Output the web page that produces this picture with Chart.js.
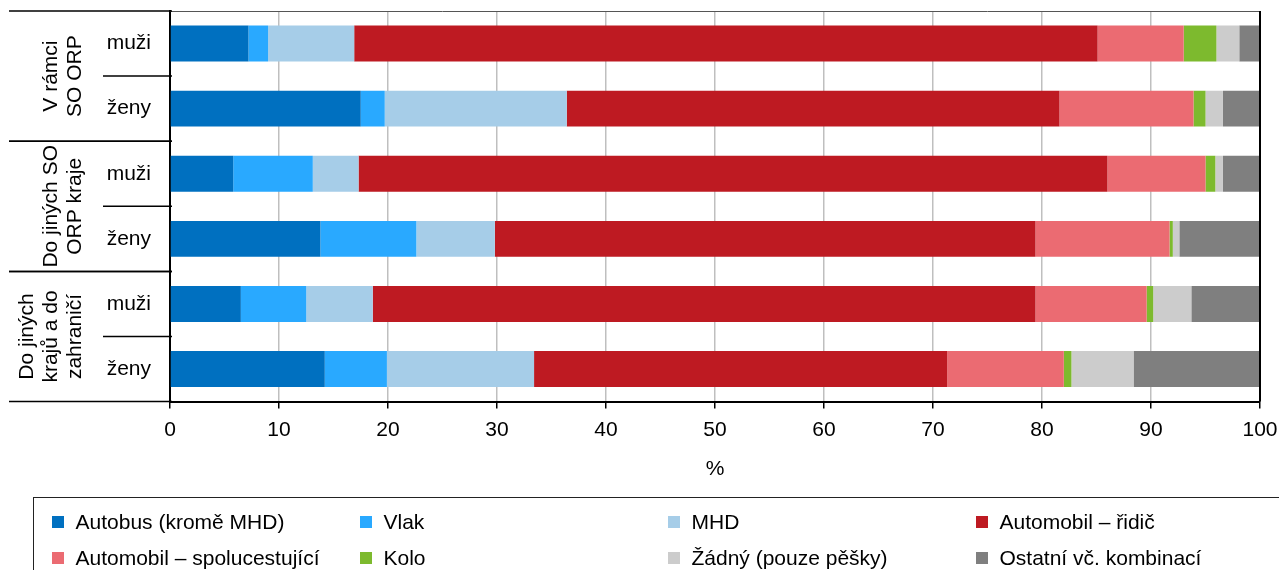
<!DOCTYPE html>
<html>
<head>
<meta charset="utf-8">
<script src="https://cdn.jsdelivr.net/npm/chart.js@4"></script>
<style>
  html, body { margin: 0; padding: 0; background: #fff; overflow: hidden; }
  #wrap { position: relative; width: 1279px; height: 570px; font-family: "Liberation Sans", Arial, sans-serif; }
  #c { position: absolute; left: 0; top: 0; }
  #legend { position: absolute; left: 33px; top: 497px; width: 1300px; height: 120px; border: 1.5px solid #222; box-sizing: border-box; }
  .li { position: absolute; display: flex; align-items: center; font-size: 21px; color: #000; white-space: nowrap; height: 24px; }
  .li span.sw { display: inline-block; width: 12px; height: 12px; margin-right: 12px; }
</style>
</head>
<body>
<div id="wrap">
  <canvas id="c" width="1279" height="570"></canvas>
  <div id="legend"></div>
</div>
<script>
// ---- data ----
const categories = ["muži", "ženy", "muži", "ženy", "muži", "ženy"];
const groupLabels = [["V rámci", "SO ORP"], ["Do jiných SO", "ORP kraje"], ["Do jiných", "krajů a do", "zahraničí"]];
const groupSpans = [[0, 1], [2, 3], [4, 5]];
const seriesNames = ["Autobus (kromě MHD)", "Vlak", "MHD", "Automobil – řidič", "Automobil – spolucestující", "Kolo", "Žádný (pouze pěšky)", "Ostatní vč. kombinací"];
const seriesColors = ["#0070c0", "#29a9ff", "#a6cde8", "#be1a22", "#eb6b72", "#7dba2e", "#cccccc", "#7f7f7f"];
const autobus   = [7.2, 17.5, 5.8, 13.8, 6.5, 14.2];
const vlak      = [1.8, 2.2, 7.3, 8.8, 6.0, 5.7];
const mhd       = [7.9, 16.7, 4.2, 7.2, 6.1, 13.5];
const ridic     = [68.2, 45.2, 68.7, 49.6, 60.8, 37.9];
const spolu     = [7.9, 12.3, 9.0, 12.3, 10.2, 10.7];
const kolo      = [3.0, 1.1, 0.9, 0.3, 0.6, 0.7];
const zadny     = [2.1, 1.6, 0.7, 0.6, 3.5, 5.7];
const ostatni   = [1.9, 3.4, 3.4, 7.4, 6.3, 11.6];
const xTicks = [0, 10, 20, 30, 40, 50, 60, 70, 80, 90, 100];
const xTitle = "%";

const seriesValues = [autobus, vlak, mhd, ridic, spolu, kolo, zadny, ostatni];
const FONT = "'Liberation Sans', Arial, sans-serif";

const datasets = seriesNames.map((n, i) => ({
  label: n,
  data: seriesValues[i],
  backgroundColor: seriesColors[i],
  borderWidth: 0,
  barPercentage: 0.552,
  categoryPercentage: 1.0
}));

const decor = {
  id: 'decor',
  afterDraw(chart) {
    const ctx = chart.ctx;
    const y = chart.scales.y;
    const a = chart.chartArea;
    const n = categories.length;
    const edge = i => i === 0 ? a.top : (i === n ? a.bottom : (y.getPixelForValue(i - 1) + y.getPixelForValue(i)) / 2);
    ctx.save();
    ctx.strokeStyle = '#555';
    ctx.lineWidth = 1;
    ctx.beginPath(); ctx.moveTo(a.left, a.top + 0.5); ctx.lineTo(a.right, a.top + 0.5); ctx.stroke();
    ctx.strokeStyle = '#000';
    ctx.lineWidth = 2;
    ctx.beginPath(); ctx.moveTo(a.right, a.top); ctx.lineTo(a.right, a.bottom); ctx.stroke();
    ctx.lineWidth = 1.5;
    ctx.strokeStyle = '#000';
    groupSpans.forEach(([s, e]) => {
      [s, e + 1].forEach(k => {
        const yy = edge(k);
        ctx.beginPath(); ctx.moveTo(9, yy); ctx.lineTo(a.left + 2, yy); ctx.stroke();
      });
      for (let k = s + 1; k <= e; k++) {
        const yy = edge(k);
        ctx.beginPath(); ctx.moveTo(103, yy); ctx.lineTo(a.left + 2, yy); ctx.stroke();
      }
    });
    ctx.fillStyle = '#000';
    ctx.font = '21px ' + FONT;
    ctx.textAlign = 'center';
    ctx.textBaseline = 'middle';
    groupSpans.forEach(([s, e], g) => {
      const cy = (edge(s) + edge(e + 1)) / 2;
      const lines = groupLabels[g];
      lines.forEach((t, k) => {
        const x = 75 - (lines.length - 1 - k) * 24;
        ctx.save();
        ctx.translate(x, cy);
        ctx.rotate(-Math.PI / 2);
        ctx.fillText(t, 0, 0);
        ctx.restore();
      });
    });
    ctx.restore();
  }
};

const chart = new Chart(document.getElementById('c'), {
  type: 'bar',
  data: { labels: categories, datasets },
  options: {
    indexAxis: 'y',
    responsive: false,
    animation: false,
    layout: { padding: { top: 11, right: 19, left: 0, bottom: 88 } },
    plugins: { legend: { display: false }, tooltip: { enabled: false } },
    scales: {
      x: {
        stacked: true,
        min: 0, max: 100,
        afterBuildTicks(scale) { scale.ticks = xTicks.map(v => ({ value: v })); },
        afterFit(scale) { scale.paddingLeft = 0; scale.paddingRight = 0; },
        ticks: { color: '#000', font: { family: FONT, size: 21 }, padding: 9, maxRotation: 0 },
        grid: { color: '#bfbfbf', lineWidth: 1.5, tickColor: '#000', tickLength: 7, drawTicks: true },
        border: { display: true, color: '#000', width: 2 },
        title: { display: true, text: xTitle, color: '#000', font: { family: FONT, size: 21 }, padding: { top: 5, bottom: 0 } }
      },
      y: {
        stacked: true,
        afterFit(scale) { scale.width = 170; scale.paddingTop = 0; scale.paddingBottom = 0; },
        ticks: { color: '#000', font: { family: FONT, size: 21 }, padding: 19 },
        grid: { display: false, drawTicks: false },
        border: { display: true, color: '#000', width: 2 }
      }
    }
  },
  plugins: [decor]
});

const lg = document.getElementById('legend');
seriesNames.forEach((n, i) => {
  const col = i % 4, row = Math.floor(i / 4);
  const d = document.createElement('div');
  d.className = 'li';
  d.style.left = (52 - 33 - 1.5 + col * 308) + 'px';
  d.style.top = (522 - 497 - 1.5 - 12 + row * 36) + 'px';
  const sw = document.createElement('span');
  sw.className = 'sw';
  sw.style.background = seriesColors[i];
  d.appendChild(sw);
  d.appendChild(document.createTextNode(n));
  lg.appendChild(d);
});
</script>
</body>
</html>
